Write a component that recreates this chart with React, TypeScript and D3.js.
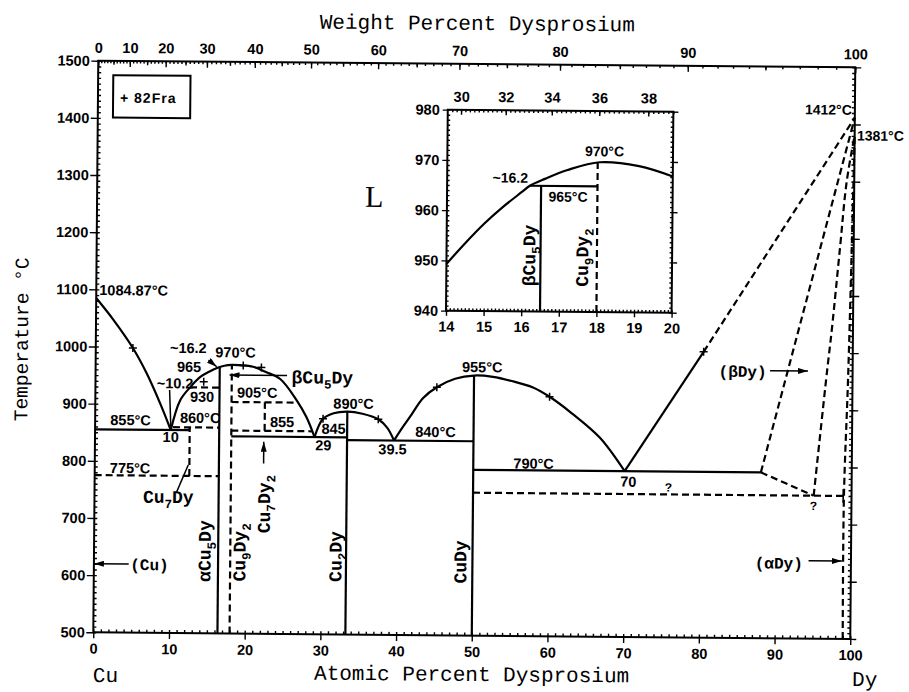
import React, { useEffect, useRef } from 'react';
import * as d3 from 'd3';

type Pt = [number, number];

// ---------- axis ticks ----------
const atomicTicks = d3.range(0, 101, 10);
const weightTicks = d3.range(0, 101, 10);
const tempTicks = d3.range(500, 1501, 100);
const insetAtomicTicks = d3.range(14, 21, 1);
const insetWeightTicks = [30, 32, 34, 36, 38];
const insetTempTicks = [940, 950, 960, 970, 980];

// ---------- phase boundaries (at.% Dy, °C) ----------
const liquidusCu: Pt[] = [[0, 1084.87], [2.3, 1047], [4.9, 998], [6.75, 954], [8.55, 902], [10, 855]];
const liquidusCu5Dy: Pt[] = [[10, 855], [11.2, 907], [12.5, 930], [13.8, 948], [15, 957.5], [16.2, 965], [17, 968.3], [18, 970], [19, 969.5], [20.8, 967], [22.5, 958], [24.4, 946], [26.6, 909], [27.9, 880], [29, 845]];
const liquidusCu2Dy: Pt[] = [[29, 845], [30.1, 877], [31.5, 887], [33.3, 890], [35.3, 886.5], [37.4, 877], [38.6, 862], [39.5, 840]];
const liquidusCuDy: Pt[] = [[39.5, 840], [40.5, 861], [41.6, 882], [43.3, 915], [45.1, 934], [47.5, 949], [50, 955], [52.5, 953], [55, 946], [57.8, 935], [60, 919], [63, 890], [66.7, 848], [70, 790]];
const liquidusDy: Pt[] = [[70, 790], [80.3, 1000]];
const liquidusDyDashed: Pt[] = [[80.3, 1000], [100, 1412]];
const solidusDy: Pt[] = [[88, 790], [100, 1412]];
const transusDy: Pt[] = [[95, 750], [96.6, 965], [97.2, 1040], [98.2, 1185], [99, 1300], [100, 1381]];
const solvusDy: Pt[] = [[99, 500], [99, 750], [99.4, 950], [99.7, 1150], [100, 1381]];

const solidSegments: Pt[][] = [
  [[0, 855], [12.5, 855]],
  [[18, 845], [33.3, 845]],
  [[33.3, 840], [50, 840]],
  [[50, 790], [88, 790]],
  [[16.4, 500], [16.4, 965]],
  [[33.3, 500], [33.3, 890]],
  [[50, 500], [50, 955]],
];
const dashedSegments: Pt[][] = [
  [[10.3, 860], [16.4, 860]],
  [[0, 775], [16.4, 775]],
  [[12.5, 930], [16.4, 930]],
  [[12.5, 775], [12.5, 860]],
  [[18, 500], [18, 970]],
  [[18, 905], [26.7, 905]],
  [[22.4, 855], [22.4, 905]],
  [[18, 855], [28.7, 855]],
  [[50, 750], [98.9, 750]],
  [[88, 790], [95, 750]],
];
const crosses82Fra: Pt[] = [[4.9, 998], [14.3, 940], [19.5, 969], [21.9, 966], [30.1, 877], [37.4, 877], [45.1, 934], [60, 919], [80.3, 1000]];

// leader lines and arrows
const leaders: Pt[][] = [
  [[9.8, 925], [10, 861]],
  [[10.85, 747], [12.35, 794]],
];
const arrows: Pt[][] = [
  [[14.9, 978], [16.0, 966.5]],
  [[25.3, 952], [17.7, 952]],
  [[22.3, 798], [22.3, 836]],
  [[89.1, 968], [94.1, 968]],
  [[94.4, 636], [98.8, 636]],
  [[4.6, 620], [0, 620]],
];

// temperature / composition labels
const valueLabels: { t: string; x: number; y: number; a: string }[] = [
  { t: '1084.87°C', x: 0.4, y: 1090, a: 'start' },
  { t: '~16.2', x: 9.8, y: 990, a: 'start' },
  { t: '965', x: 10.75, y: 957, a: 'start' },
  { t: '970°C', x: 15.8, y: 983, a: 'start' },
  { t: '~10.2', x: 8.1, y: 928, a: 'start' },
  { t: '930', x: 12.5, y: 905, a: 'start' },
  { t: '855°C', x: 2.0, y: 863, a: 'start' },
  { t: '860°C', x: 11.2, y: 868, a: 'start' },
  { t: '10', x: 10.0, y: 834, a: 'middle' },
  { t: '775°C', x: 2.0, y: 779, a: 'start' },
  { t: '905°C', x: 18.7, y: 913, a: 'start' },
  { t: '855', x: 23.1, y: 862, a: 'start' },
  { t: '845', x: 29.9, y: 851, a: 'start' },
  { t: '29', x: 29.1, y: 822, a: 'start' },
  { t: '890°C', x: 31.45, y: 895, a: 'start' },
  { t: '39.5', x: 37.45, y: 816, a: 'start' },
  { t: '840°C', x: 42.3, y: 847, a: 'start' },
  { t: '955°C', x: 48.4, y: 961, a: 'start' },
  { t: '790°C', x: 55.3, y: 793, a: 'start' },
  { t: '70', x: 70.5, y: 763, a: 'middle' },
  { t: '1412°C', x: 99.6, y: 1417, a: 'end' },
  { t: '1381°C', x: 100.3, y: 1372, a: 'start' },
];
const queryLabels: Pt[] = [[75.8, 755], [95.0, 725]];

// phase names ("_" marks a subscript character)
const phaseLabels: { t: string; x: number; y: number; r: boolean }[] = [
  { t: 'αCu_5Dy', x: 15.4, y: 590, r: true },
  { t: 'Cu_9Dy_2', x: 20.0, y: 591, r: true },
  { t: 'Cu_7Dy_2', x: 23.2, y: 676, r: true },
  { t: 'Cu_2Dy', x: 32.7, y: 592, r: true },
  { t: 'CuDy', x: 49.2, y: 591, r: true },
  { t: 'βCu_5Dy', x: 25.9, y: 938.7, r: false },
  { t: 'Cu_7Dy', x: 6.4, y: 727.5, r: false },
  { t: '(βDy)', x: 82.3, y: 956.7, r: false },
  { t: '(αDy)', x: 87.3, y: 622, r: false },
  { t: '(Cu)', x: 4.8, y: 609.6, r: false },
];

// inset (at.% Dy 14-20, 940-980 °C)
const insetLiquidus: Pt[] = [[14, 949.3], [14.5, 953.5], [15, 957.4], [15.5, 960.8], [16, 963.8], [16.2, 965], [16.6, 966.4], [17.2, 968.2], [18.05, 969.8], [19.1, 969.1], [20, 967.1]];
const insetSolid: Pt[][] = [[[16.5, 940], [16.5, 965]], [[16.2, 965], [18, 965]]];
const insetDashed: Pt[][] = [[[18, 940], [18, 969.8]]];
const insetValueLabels = [
  { t: '~16.2', x: 16.15, y: 965.6, a: 'end' },
  { t: '970°C', x: 17.66, y: 971, a: 'start' },
  { t: '965°C', x: 16.7, y: 961.9, a: 'start' },
];
const insetPhaseLabels = [
  { t: 'βCu_5Dy', x: 16.36, y: 945 },
  { t: 'Cu_9Dy_2', x: 17.77, y: 945 },
];

// ---------- layout ----------
const FRAME = { left: 93.3, top: 60.7, right: 850.3, bottom: 632.3 };
const INSET = { left: 443.2, top: 106.6, right: 668.8, bottom: 307.6 };
const TILT = 0.5;
const SANS = '"Liberation Sans", Arial, sans-serif';
const MONO = '"Liberation Mono", "DejaVu Sans Mono", monospace';
const SERIF = '"Liberation Serif", serif';

const M_CU = 63.546;
const M_DY = 162.5;
const wtToAt = (w: number) => {
  if (w <= 0) return 0;
  if (w >= 100) return 100;
  const a = w / M_DY;
  const b = (100 - w) / M_CU;
  return (100 * a) / (a + b);
};

const App = () => {
  const svgRef = useRef<SVGSVGElement>(null);

  useEffect(() => {
    const svg = d3.select(svgRef.current);
    svg.selectAll('*').remove();

    svg.append('defs').append('marker')
      .attr('id', 'arr')
      .attr('viewBox', '0 0 10 6')
      .attr('refX', 10).attr('refY', 3)
      .attr('markerWidth', 10).attr('markerHeight', 6)
      .attr('markerUnits', 'userSpaceOnUse')
      .attr('orient', 'auto')
      .append('path').attr('d', 'M0,0L10,3L0,6Z').attr('fill', '#000');

    const g = svg.append('g').attr('transform', `rotate(${TILT},${FRAME.left},${FRAME.bottom})`);

    const x = d3.scaleLinear().domain([0, 100]).range([FRAME.left, FRAME.right]);
    const y = d3.scaleLinear().domain([500, 1500]).range([FRAME.bottom, FRAME.top]);
    const ix = d3.scaleLinear().domain([14, 20]).range([INSET.left, INSET.right]);
    const iy = d3.scaleLinear().domain([940, 980]).range([INSET.bottom, INSET.top]);
    const fmt = d3.format('d');

    const styleAxis = (sel: any, size = 14.5) => {
      sel.select('.domain').remove();
      sel.selectAll('line').attr('stroke', '#000').attr('stroke-width', 1.4);
      sel.selectAll('text')
        .attr('fill', '#000')
        .style('font-family', SANS)
        .style('font-weight', 'bold')
        .style('font-size', `${size}px`);
    };
    const axis = (a: any, tr: string) => {
      const s = g.append('g').attr('transform', tr).call(a);
      styleAxis(s);
      return s;
    };
    const none = () => '';

    // ---- main axes ----
    axis(d3.axisBottom(x).tickValues(atomicTicks).tickSize(6).tickPadding(5).tickFormat(fmt), `translate(0,${FRAME.bottom})`);
    axis(d3.axisBottom(x).tickValues(d3.range(0, 101, 1)).tickSize(-3).tickFormat(none), `translate(0,${FRAME.bottom})`);
    axis(d3.axisLeft(y).tickValues(tempTicks).tickSize(7).tickPadding(1.5).tickFormat(fmt), `translate(${FRAME.left},0)`);
    axis(d3.axisLeft(y).tickValues(d3.range(500, 1501, 10)).tickSize(-3).tickFormat(none), `translate(${FRAME.left},0)`);
    axis(d3.axisRight(y).tickValues(tempTicks).tickSize(6).tickFormat(none), `translate(${FRAME.right},0)`);
    axis(d3.axisRight(y).tickValues(d3.range(500, 1501, 10)).tickSize(-3).tickFormat(none), `translate(${FRAME.right},0)`);
    axis(d3.axisTop(x).tickValues(weightTicks.map(wtToAt)).tickSize(-6).tickPadding(8)
      .tickFormat((_: any, i: number) => String(weightTicks[i])), `translate(0,${FRAME.top})`);
    axis(d3.axisTop(x).tickValues(d3.range(5, 100, 10).map(wtToAt)).tickSize(-4).tickFormat(none), `translate(0,${FRAME.top})`);
    axis(d3.axisTop(x).tickValues(d3.range(0, 101, 1).map(wtToAt)).tickSize(-2.5).tickFormat(none), `translate(0,${FRAME.top})`);

    g.append('rect')
      .attr('x', FRAME.left).attr('y', FRAME.top)
      .attr('width', FRAME.right - FRAME.left).attr('height', FRAME.bottom - FRAME.top)
      .attr('fill', 'none').attr('stroke', '#000').attr('stroke-width', 2);

    // ---- axis titles ----
    const title = (t: string, px: number, py: number, anchor = 'middle', rot = 0) =>
      g.append('text')
        .attr('transform', `translate(${px},${py}) rotate(${rot})`)
        .attr('text-anchor', anchor)
        .style('font-family', MONO)
        .style('font-size', '21px')
        .attr('fill', '#000')
        .text(t);
    title('Weight Percent Dysprosium', 472, 26.7);
    title('Atomic Percent Dysprosium', 472, 677.7);
    title('Cu', FRAME.left, 682, 'start');
    title('Dy', 852.5, 679.4, 'start');
    title('Temperature °C', 25.4, 340, 'middle', -90).style('font-size', '19.5px');

    // ---- phase boundaries ----
    const smooth = d3.line<Pt>().x(d => x(d[0])).y(d => y(d[1])).curve(d3.curveCatmullRom.alpha(0.5));
    const straight = d3.line<Pt>().x(d => x(d[0])).y(d => y(d[1]));
    const stroke = (p: any, dashed = false) => {
      p.attr('fill', 'none').attr('stroke', '#000').attr('stroke-width', 2.2);
      if (dashed) p.attr('stroke-dasharray', '7,4');
      return p;
    };

    [liquidusCu, liquidusCu5Dy, liquidusCu2Dy, liquidusCuDy].forEach(c => stroke(g.append('path').attr('d', smooth(c))));
    stroke(g.append('path').attr('d', straight(liquidusDy)));
    stroke(g.append('path').attr('d', straight(liquidusDyDashed)), true);
    stroke(g.append('path').attr('d', straight(solidusDy)), true);
    stroke(g.append('path').attr('d', smooth(transusDy)), true);
    stroke(g.append('path').attr('d', smooth(solvusDy)), true);
    solidSegments.forEach(s => stroke(g.append('path').attr('d', straight(s))));
    dashedSegments.forEach(s => stroke(g.append('path').attr('d', straight(s)), true));

    // end tick of the dashed 750 line
    g.append('path')
      .attr('d', straight([[98.9, 738], [98.9, 762]]))
      .attr('stroke', '#000').attr('stroke-width', 1.6);

    leaders.forEach(s => g.append('path').attr('d', straight(s)).attr('stroke', '#000').attr('stroke-width', 1.5));
    arrows.forEach(s => g.append('path').attr('d', straight(s))
      .attr('stroke', '#000').attr('stroke-width', 1.5).attr('marker-end', 'url(#arr)'));

    g.selectAll('.cross').data(crosses82Fra).enter().append('path')
      .attr('class', 'cross')
      .attr('transform', d => `translate(${x(d[0])},${y(d[1])})`)
      .attr('d', 'M-4,0H4M0,-4V4')
      .attr('stroke', '#000').attr('stroke-width', 1.5);

    // ---- labels ----
    const valueText = (parent: any, t: string, px: number, py: number, anchor: string, size = 14.5) =>
      parent.append('text')
        .attr('x', px).attr('y', py)
        .attr('text-anchor', anchor)
        .style('font-family', SANS).style('font-weight', 'bold').style('font-size', `${size}px`)
        .attr('fill', '#000')
        .text(t);

    valueLabels.forEach(l => valueText(g, l.t, x(l.x), y(l.y), l.a, l.t.startsWith('13') || l.t.startsWith('14') ? 14 : 14.5));
    queryLabels.forEach(q => valueText(g, '?', x(q[0]), y(q[1]), 'middle', 12));

    const rich = (parent: any, s: string, px: number, py: number, rotated: boolean, size = 18) => {
      const t = parent.append('text')
        .attr('transform', `translate(${px},${py})${rotated ? ' rotate(-90)' : ''}`)
        .style('font-family', MONO).style('font-weight', 'bold').style('font-size', `${size}px`)
        .attr('fill', '#000');
      let shifted = false;
      s.split(/(_.)/).filter(Boolean).forEach(p => {
        if (p.startsWith('_')) {
          t.append('tspan').style('font-size', `${size * 0.7}px`).attr('dy', size * 0.28).text(p.slice(1));
          shifted = true;
        } else {
          const sp = t.append('tspan').text(p);
          if (shifted) { sp.attr('dy', -size * 0.28); shifted = false; }
        }
      });
    };
    phaseLabels.forEach(l => rich(g, l.t, x(l.x), y(l.y), l.r, l.t.startsWith('(') ? 16 : 18));

    g.append('text')
      .attr('x', x(35.4)).attr('y', y(1248.7))
      .style('font-family', SERIF).style('font-size', '30px')
      .attr('fill', '#000')
      .text('L');

    // legend box
    g.append('rect')
      .attr('x', x(2.0)).attr('y', y(1475))
      .attr('width', x(12.2) - x(2.0)).attr('height', y(1400.7) - y(1475))
      .attr('fill', 'none').attr('stroke', '#000').attr('stroke-width', 2);
    valueText(g, '+ 82Fra', x(2.92), y(1427), 'start', 14).style('letter-spacing', '1px');

    // ---- inset ----
    const ig = g.append('g');
    ig.append('rect')
      .attr('x', INSET.left).attr('y', INSET.top)
      .attr('width', INSET.right - INSET.left).attr('height', INSET.bottom - INSET.top)
      .attr('fill', '#fff');
    const iaxis = (a: any, tr: string) => {
      const s = ig.append('g').attr('transform', tr).call(a);
      styleAxis(s);
      return s;
    };
    iaxis(d3.axisBottom(ix).tickValues(insetAtomicTicks).tickSize(5).tickPadding(5.5).tickFormat(fmt), `translate(0,${INSET.bottom})`);
    iaxis(d3.axisBottom(ix).tickValues(d3.range(14, 20.01, 0.1)).tickSize(-2.5).tickFormat(none), `translate(0,${INSET.bottom})`);
    iaxis(d3.axisLeft(iy).tickValues(insetTempTicks).tickSize(5).tickPadding(3).tickFormat(fmt), `translate(${INSET.left},0)`);
    iaxis(d3.axisLeft(iy).tickValues(d3.range(940, 981, 1)).tickSize(-2.5).tickFormat(none), `translate(${INSET.left},0)`);
    iaxis(d3.axisRight(iy).tickValues(insetTempTicks).tickSize(5).tickFormat(none), `translate(${INSET.right},0)`);
    iaxis(d3.axisRight(iy).tickValues(d3.range(940, 981, 1)).tickSize(-2.5).tickFormat(none), `translate(${INSET.right},0)`);
    iaxis(d3.axisTop(ix).tickValues(insetWeightTicks.map(wtToAt)).tickSize(-5).tickPadding(8)
      .tickFormat((_: any, i: number) => String(insetWeightTicks[i])), `translate(0,${INSET.top})`);
    iaxis(d3.axisTop(ix).tickValues(d3.range(29.6, 39.01, 0.2).map(wtToAt)).tickSize(-2.5).tickFormat(none), `translate(0,${INSET.top})`);
    ig.append('rect')
      .attr('x', INSET.left).attr('y', INSET.top)
      .attr('width', INSET.right - INSET.left).attr('height', INSET.bottom - INSET.top)
      .attr('fill', 'none').attr('stroke', '#000').attr('stroke-width', 2);

    const ismooth = d3.line<Pt>().x(d => ix(d[0])).y(d => iy(d[1])).curve(d3.curveCatmullRom.alpha(0.5));
    const istraight = d3.line<Pt>().x(d => ix(d[0])).y(d => iy(d[1]));
    stroke(ig.append('path').attr('d', ismooth(insetLiquidus)));
    insetSolid.forEach(s => stroke(ig.append('path').attr('d', istraight(s))));
    insetDashed.forEach(s => stroke(ig.append('path').attr('d', istraight(s)), true));
    insetValueLabels.forEach(l => valueText(ig, l.t, ix(l.x), iy(l.y), l.a, 14));
    insetPhaseLabels.forEach(l => rich(ig, l.t, ix(l.x), iy(l.y), true, 18));
  }, []);

  return (
    <svg
      ref={svgRef}
      width={909}
      height={692}
      style={{ position: 'absolute', left: 0, top: 0, background: '#fff' }}
    />
  );
};

export default App;
